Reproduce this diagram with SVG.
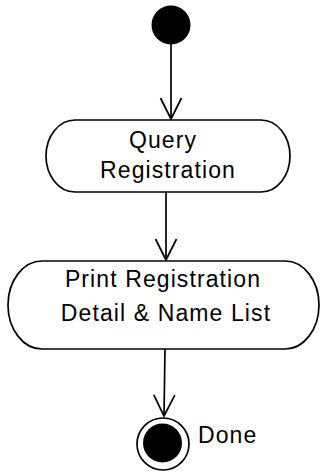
<svg xmlns="http://www.w3.org/2000/svg" width="320" height="473" viewBox="0 0 320 473">
<style>
.box{fill:#ffffff;stroke:#000000;stroke-width:1.7}
.lbl{font-family:"Liberation Sans",Arial,sans-serif;font-size:23px;fill:#000000;letter-spacing:1.1px}
.edge{fill:none;stroke:#000000;stroke-width:1.7}
</style>
<defs>
<marker id="open" markerUnits="userSpaceOnUse" orient="auto" refX="0" refY="0" markerWidth="30" markerHeight="30" overflow="visible">
<path d="M-21,-10.5 L0,0 L-21,10.5" fill="none" stroke="#000000" stroke-width="1.7"/>
</marker>
</defs>
<rect width="320" height="473" fill="#ffffff"/>
<g id="edges">
<line class="edge" x1="171" y1="44" x2="171" y2="119" marker-end="url(#open)"/>
<line class="edge" x1="166" y1="192" x2="166" y2="260" marker-end="url(#open)"/>
<line class="edge" x1="165" y1="349" x2="164" y2="416" marker-end="url(#open)"/>
</g>
<g id="start">
<circle cx="171" cy="25" r="19.5" fill="#000000"/>
</g>
<g id="query">
<rect class="box" x="46" y="120" width="244" height="72" rx="29" ry="36"/>
<text class="lbl" x="163" y="148" text-anchor="middle">Query</text>
<text class="lbl" x="168" y="178" text-anchor="middle">Registration</text>
</g>
<g id="print">
<rect class="box" x="8" y="261" width="311" height="88" rx="34" ry="44"/>
<text class="lbl" x="163" y="287" text-anchor="middle">Print Registration</text>
<text class="lbl" x="166" y="321" text-anchor="middle">Detail &amp; Name List</text>
</g>
<g id="done">
<circle cx="163" cy="444" r="26" fill="#ffffff" stroke="#000000" stroke-width="1.7"/>
<circle cx="162.5" cy="443" r="19.5" fill="#000000"/>
<text class="lbl" x="198" y="443">Done</text>
</g>
</svg>
